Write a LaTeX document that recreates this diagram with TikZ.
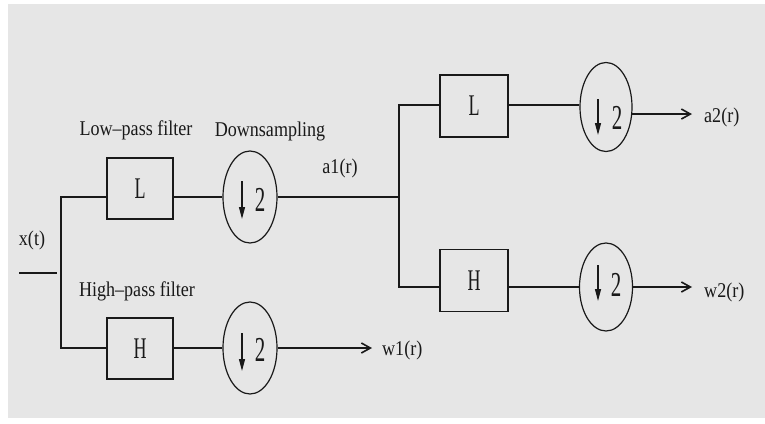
\documentclass[tikz,border=0pt]{standalone}
\usepackage{fontspec}
\setmainfont{Liberation Serif}
\newfontfamily\labfont[FakeStretch=0.86]{Liberation Serif}
\newfontfamily\boxfont[FakeStretch=0.6]{Liberation Serif}
\usetikzlibrary{shapes.geometric,arrows.meta}
\definecolor{bg}{RGB}{230,230,230}
\definecolor{ink}{RGB}{25,25,25}
\begin{document}
\begin{tikzpicture}[x=1pt,y=-1pt,
  wire/.style={draw=ink,line width=1.6pt},
  arr/.style={wire,-{Straight Barb[length=9pt,width=10pt]}},
  filt/.style={draw=ink,line width=1.6pt,minimum width=66pt,minimum height=61pt,inner sep=0pt,text=ink,font=\boxfont\fontsize{30}{30}\selectfont},
  dsamp/.style={ellipse,draw=ink,line width=1.2pt,minimum width=54pt,minimum height=92pt,inner sep=0pt},
  lab/.style={font=\labfont\fontsize{21}{21}\selectfont,inner sep=0pt,text=ink},
  digit/.style={font=\boxfont\fontsize{35}{35}\selectfont,inner sep=0pt,text=ink},
  dnarr/.style={draw=ink,line width=1.3pt,-{Triangle[length=12pt,width=6pt]}},
]
\useasboundingbox (0,0) rectangle (765,423);
\fill[bg] (8,4) rectangle (765,418);

% blocks
\node[filt] (L1) at (140,188.5) {L};
\node[filt] (H1) at (140,348.5) {H};
\node[dsamp] (E1) at (250,197) {};
\node[dsamp] (E2) at (250,348) {};
\node[filt,minimum width=68pt,minimum height=62pt] (L2) at (474,106) {L};
\node[filt,minimum width=68pt,minimum height=62pt] (H2) at (474,280.5) {H};
\node[dsamp,minimum width=52pt,minimum height=89pt] (E3) at (606,107) {};
\node[dsamp,minimum width=53pt,minimum height=88pt] (E4) at (606,287) {};

% downsampling symbols
\draw[dnarr] ([xshift=-8pt,yshift=16pt]E1.center) -- ++(0,38);
\node[digit] at ([xshift=10pt,yshift=-2.5pt]E1.center) {2};
\draw[dnarr] ([xshift=-8pt,yshift=15pt]E2.center) -- ++(0,38);
\node[digit] at ([xshift=10pt,yshift=-2pt]E2.center) {2};
\draw[dnarr] ([xshift=-8pt,yshift=8pt]E3.center) -- ++(0,36);
\node[digit] at ([xshift=11pt,yshift=-11pt]E3.center) {2};
\draw[dnarr] ([xshift=-8pt,yshift=22pt]E4.center) -- ++(0,36);
\node[digit] at ([xshift=10pt,yshift=2pt]E4.center) {2};

% labels
\node[lab,anchor=base] (xt) at (32,245) {x(t)};
\node[lab,anchor=base] (lpf) at (136,135) {Low–pass filter};
\node[lab,anchor=base] (ds) at (270,136) {Downsampling};
\node[lab,anchor=base] (a1) at (340,173) {a1(r)};
\node[lab,anchor=base] (hpf) at (137,296) {High–pass filter};
\node[lab,anchor=base west,inner xsep=10pt] (w1) at (372,355) {w1(r)};
\node[lab,anchor=base west,inner xsep=12pt] (a2) at (692,122) {a2(r)};
\node[lab,anchor=base west,inner xsep=12pt] (w2) at (692,297) {w2(r)};

% junction points
\coordinate (in0) at (19,273);
\coordinate (in1) at (57,273);
\coordinate (j1t) at (61,197);
\coordinate (j1b) at (61,348);
\coordinate (j2) at (399,197);
\coordinate (j2t) at (399,105);
\coordinate (j2b) at (399,287);

% wires
\draw[wire] (in0) -- (in1);
\draw[wire] (L1.west |- j1t) -- (j1t) -- (j1b) -- (H1.west |- j1b);
\draw[wire] (L1.east |- j1t) -- (E1.west);
\draw[wire] (H1.east |- j1b) -- (E2.west);
\draw[wire] (E1.east) -- (j2);
\draw[arr] (E2.east) -- (w1.west |- E2.east);
\draw[wire] (L2.west |- j2t) -- (j2t) -- (j2b) -- (H2.west |- j2b);
\draw[wire] (L2.east |- j2t) -- (E3.west |- j2t);
\draw[wire] (H2.east |- j2b) -- (E4.west);
\draw[arr] (E3.-15) -- (a2.west |- E3.-15);
\draw[arr] (E4.east) -- (w2.west |- E4.east);
\end{tikzpicture}
\end{document}
